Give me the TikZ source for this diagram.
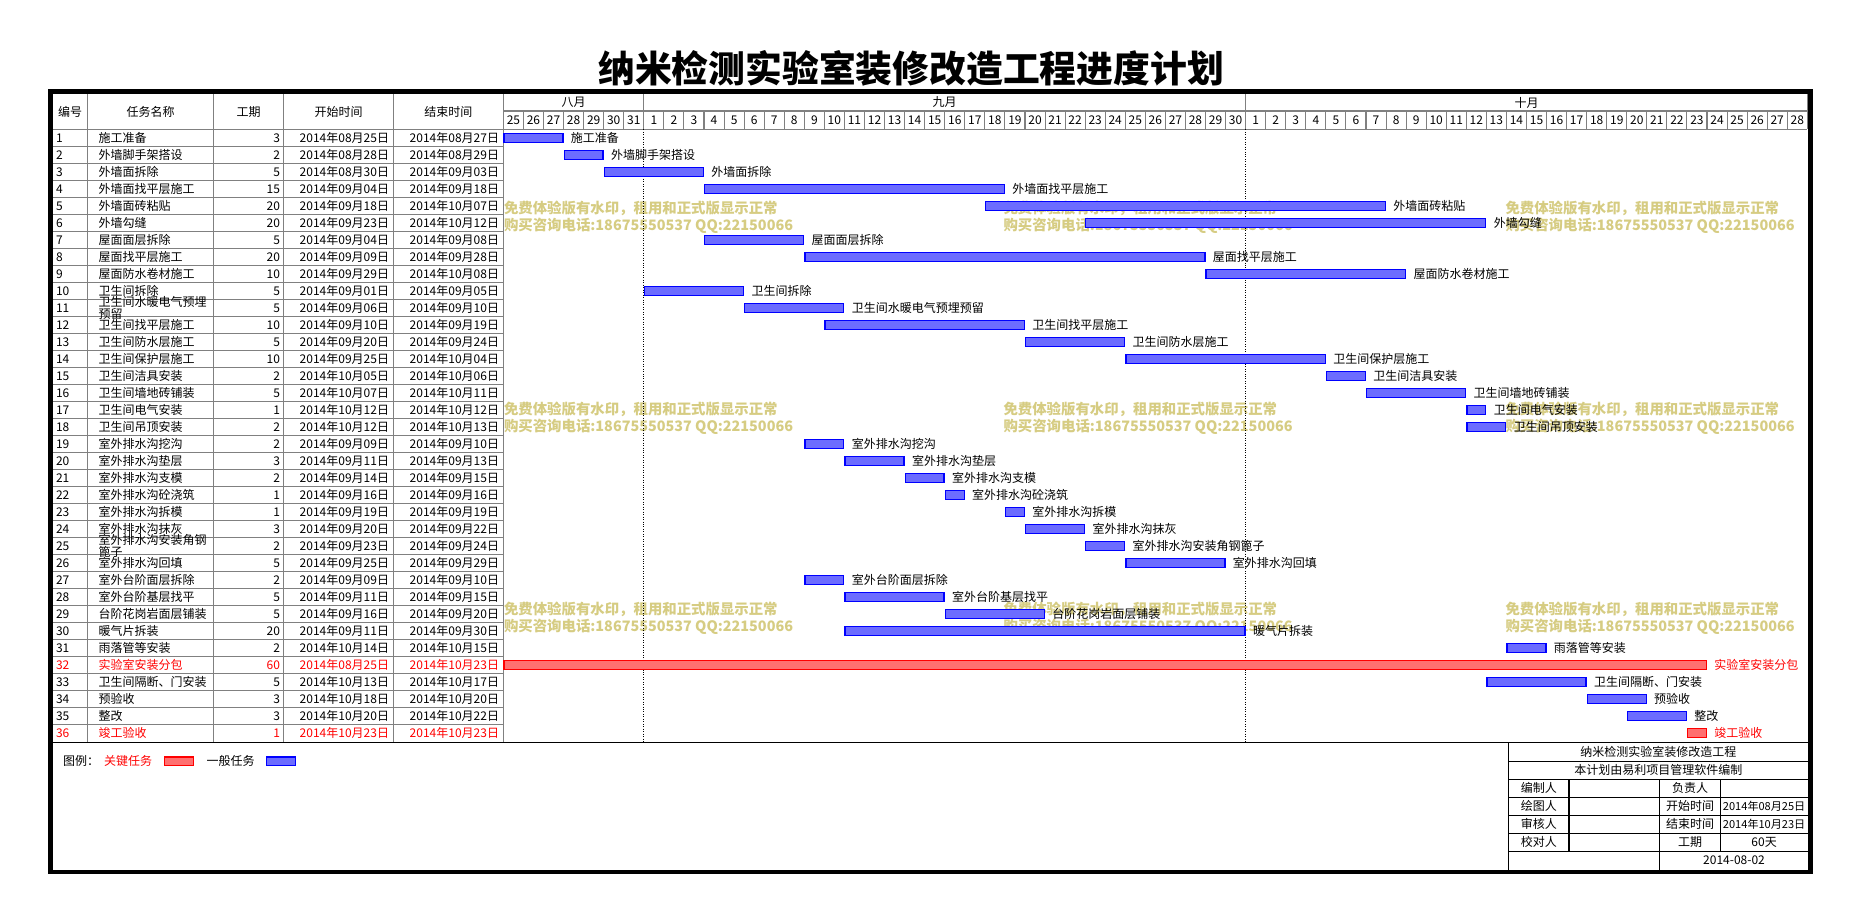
\documentclass[tikz,border=0pt]{standalone}
\usepackage{fontspec}
\setmainfont{Noto Sans CJK SC}
\definecolor{wm}{RGB}{214,204,130}
\definecolor{gridgray}{RGB}{128,128,128}
\definecolor{barblue}{RGB}{108,108,255}
\definecolor{barred}{RGB}{255,112,112}
\tikzset{
  gline/.style={draw=gridgray, line width=0.8pt},
  bline/.style={draw=black, line width=0.9pt},
  dline/.style={draw=black, line width=0.75pt, dash pattern=on 0.75pt off 1.1pt},
  bbar/.style={draw=blue, fill=barblue, line width=1pt},
  rbar/.style={draw=red, fill=barred, line width=1pt},
  wmtext/.style={text=wm, font=\fontsize{10.8}{10.8}\selectfont\bfseries},
}
\begin{document}
\begin{tikzpicture}[x=0.75pt,y=-0.75pt, every node/.style={inner sep=0pt, outer sep=0pt, font=\fontsize{9}{9}\selectfont}]
\fill[white] (0,0) rectangle (1855,921);
\useasboundingbox (0,0) rectangle (1855,921);

% title
\node[font=\fontsize{27.6}{28}\selectfont\bfseries] (title) at (911,68.5) {纳米检测实验室装修改造工程进度计划};

% watermarks
\foreach \wx [count=\ci] in {504,1003.5,1505.5} {
  \foreach \wy [count=\ri] in {208.3,409.3,609} {
    \node[wmtext, anchor=west] (wa\ci\ri) at (\wx,\wy) {免费体验版有水印，租用和正式版显示正常};
    \node[wmtext, anchor=west] (wb\ci\ri) at (\wx,\wy+17.7) {购买咨询电话:18675550537 QQ:22150066};
  }
}

% header grid
\draw[gline] (503.4,111) -- (1807.3,111);
\draw[gline] (52.6,129.3) -- (1807.3,129.3);
\foreach \d in {1,...,64} {
  \pgfmathsetmacro\xx{503.4+20.06*\d}
  \draw[gline] (\xx,111) -- (\xx,129.3);
}
\draw[gline] (643.82,94) -- (643.82,111);
\draw[gline] (1245.62,94) -- (1245.62,111);
\draw[gline] (1807.3,94) -- (1807.3,129.3);
\foreach \d in {0,...,64} {
  \pgfmathsetmacro\xx{503.4+20.06*(\d+0.5)}
  \pgfmathtruncatemacro\dn{(\d<7)*(25+\d) + (\d>=7)*(\d<37)*(\d-6) + (\d>=37)*(\d-36)}
  \node (day\d) at (\xx,120.2) {\dn};
}
\node (m8) at (573.6,102.5) {八月};
\node (m9) at (944.7,102.5) {九月};
\node (m10) at (1526.5,102.5) {十月};

% table header
\node (h1) at (70,111.7) {编号};
\node (h2) at (150.5,111.7) {任务名称};
\node (h3) at (248.5,111.7) {工期};
\node (h4) at (338.5,111.7) {开始时间};
\node (h5) at (448.4,111.7) {结束时间};

% table grid
\foreach \k in {1,...,35} {
  \draw[gline] (52.6,129.3+17*\k) -- (503.4,129.3+17*\k);
}
\foreach \xx in {87.4,213.5,283.5,393.4,503.4} {
  \draw[gline] (\xx,94) -- (\xx,742);
}

% month boundary dotted lines
\draw[dline] (643.82,129.3) -- (643.82,741.3);
\draw[dline] (1245.62,129.3) -- (1245.62,741.3);

% tasks
\foreach \i/\tn/\cn/\du/\sd/\ed/\a/\b/\c/\bs in {
1/施工准备/施工准备/3/2014年08月25日/2014年08月27日/0/2/black/bbar,
2/外墙脚手架搭设/外墙脚手架搭设/2/2014年08月28日/2014年08月29日/3/4/black/bbar,
3/外墙面拆除/外墙面拆除/5/2014年08月30日/2014年09月03日/5/9/black/bbar,
4/外墙面找平层施工/外墙面找平层施工/15/2014年09月04日/2014年09月18日/10/24/black/bbar,
5/外墙面砖粘贴/外墙面砖粘贴/20/2014年09月18日/2014年10月07日/24/43/black/bbar,
6/外墙勾缝/外墙勾缝/20/2014年09月23日/2014年10月12日/29/48/black/bbar,
7/屋面面层拆除/屋面面层拆除/5/2014年09月04日/2014年09月08日/10/14/black/bbar,
8/屋面找平层施工/屋面找平层施工/20/2014年09月09日/2014年09月28日/15/34/black/bbar,
9/屋面防水卷材施工/屋面防水卷材施工/10/2014年09月29日/2014年10月08日/35/44/black/bbar,
10/卫生间拆除/卫生间拆除/5/2014年09月01日/2014年09月05日/7/11/black/bbar,
11/卫生间水暖电气预埋\\预留/卫生间水暖电气预埋预留/5/2014年09月06日/2014年09月10日/12/16/black/bbar,
12/卫生间找平层施工/卫生间找平层施工/10/2014年09月10日/2014年09月19日/16/25/black/bbar,
13/卫生间防水层施工/卫生间防水层施工/5/2014年09月20日/2014年09月24日/26/30/black/bbar,
14/卫生间保护层施工/卫生间保护层施工/10/2014年09月25日/2014年10月04日/31/40/black/bbar,
15/卫生间洁具安装/卫生间洁具安装/2/2014年10月05日/2014年10月06日/41/42/black/bbar,
16/卫生间墙地砖铺装/卫生间墙地砖铺装/5/2014年10月07日/2014年10月11日/43/47/black/bbar,
17/卫生间电气安装/卫生间电气安装/1/2014年10月12日/2014年10月12日/48/48/black/bbar,
18/卫生间吊顶安装/卫生间吊顶安装/2/2014年10月12日/2014年10月13日/48/49/black/bbar,
19/室外排水沟挖沟/室外排水沟挖沟/2/2014年09月09日/2014年09月10日/15/16/black/bbar,
20/室外排水沟垫层/室外排水沟垫层/3/2014年09月11日/2014年09月13日/17/19/black/bbar,
21/室外排水沟支模/室外排水沟支模/2/2014年09月14日/2014年09月15日/20/21/black/bbar,
22/室外排水沟砼浇筑/室外排水沟砼浇筑/1/2014年09月16日/2014年09月16日/22/22/black/bbar,
23/室外排水沟拆模/室外排水沟拆模/1/2014年09月19日/2014年09月19日/25/25/black/bbar,
24/室外排水沟抹灰/室外排水沟抹灰/3/2014年09月20日/2014年09月22日/26/28/black/bbar,
25/室外排水沟安装角钢\\篦子/室外排水沟安装角钢篦子/2/2014年09月23日/2014年09月24日/29/30/black/bbar,
26/室外排水沟回填/室外排水沟回填/5/2014年09月25日/2014年09月29日/31/35/black/bbar,
27/室外台阶面层拆除/室外台阶面层拆除/2/2014年09月09日/2014年09月10日/15/16/black/bbar,
28/室外台阶基层找平/室外台阶基层找平/5/2014年09月11日/2014年09月15日/17/21/black/bbar,
29/台阶花岗岩面层铺装/台阶花岗岩面层铺装/5/2014年09月16日/2014年09月20日/22/26/black/bbar,
30/暖气片拆装/暖气片拆装/20/2014年09月11日/2014年09月30日/17/36/black/bbar,
31/雨落管等安装/雨落管等安装/2/2014年10月14日/2014年10月15日/50/51/black/bbar,
32/实验室安装分包/实验室安装分包/60/2014年08月25日/2014年10月23日/0/59/red/rbar,
33/卫生间隔断、门安装/卫生间隔断、门安装/5/2014年10月13日/2014年10月17日/49/53/black/bbar,
34/预验收/预验收/3/2014年10月18日/2014年10月20日/54/56/black/bbar,
35/整改/整改/3/2014年10月20日/2014年10月22日/56/58/black/bbar,
36/竣工验收/竣工验收/1/2014年10月23日/2014年10月23日/59/59/red/rbar} {
  \pgfmathsetmacro\yc{120.8+17*\i}
  \pgfmathsetmacro\xa{503.4+20.06*\a+0.6}
  \pgfmathsetmacro\xb{503.4+20.06*(\b+1)-0.6}
  \node[anchor=west, text=\c] (no\i) at (56,\yc) {\i};
  \node[anchor=west, align=left, text=\c] (tn\i) at (98.5,\yc) {\tn};
  \node[anchor=east, text=\c] (du\i) at (280,\yc) {\du};
  \node[anchor=east, text=\c] (sd\i) at (389,\yc) {\sd};
  \node[anchor=east, text=\c] (ed\i) at (499,\yc) {\ed};
  \draw[\bs] (\xa,\yc-4.5) rectangle (\xb,\yc+4.5);
  \node[anchor=west, text=\c] (lb\i) at (\xb+8,\yc) {\cn};
}

% bottom separator
\draw[line width=1pt] (52.6,742.3) -- (1808,742.3);

% legend
\node[anchor=west] (lg0) at (63,761) {图例：};
\node[anchor=west, text=red] (lg1) at (104,761) {关键任务};
\draw[rbar] (164.5,757) rectangle (193.5,765.5);
\node[anchor=west] (lg2) at (206.7,761) {一般任务};
\draw[bbar] (266.5,757) rectangle (295.5,765.5);

% title block
\draw[bline] (1508.8,742.3) -- (1508.8,870);
\foreach \yy in {761.3,779.3,797.3,815.3,833.3,851.3} {
  \draw[bline] (1508.8,\yy) -- (1808,\yy);
}
\draw[bline] (1568.9,779.3) -- (1568.9,851.3);
\draw[bline] (1659.8,779.3) -- (1659.8,870);
\draw[bline] (1720.2,779.3) -- (1720.2,851.3);
\node (tb1) at (1658.4,751.8) {纳米检测实验室装修改造工程};
\node (tb2) at (1658.4,770.3) {本计划由易利项目管理软件编制};
\node (tb3) at (1538.9,788.3) {编制人};
\node (tb4) at (1538.9,806.3) {绘图人};
\node (tb5) at (1538.9,824.3) {审核人};
\node (tb6) at (1538.9,842.3) {校对人};
\node (tb7) at (1690,788.3) {负责人};
\node (tb8) at (1690,806.3) {开始时间};
\node (tb9) at (1690,824.3) {结束时间};
\node (tb10) at (1690,842.3) {工期};
\node[font=\fontsize{8.3}{8.3}\selectfont] (tb11) at (1764.1,806.3) {2014年08月25日};
\node[font=\fontsize{8.3}{8.3}\selectfont] (tb12) at (1764.1,824.3) {2014年10月23日};
\node (tb13) at (1764.1,842.3) {60天};
\node (tb14) at (1734,860.7) {2014-08-02};

% outer frame
\draw[line width=3.4pt] (50.4,91.6) rectangle (1810.5,872);
\end{tikzpicture}
\end{document}
